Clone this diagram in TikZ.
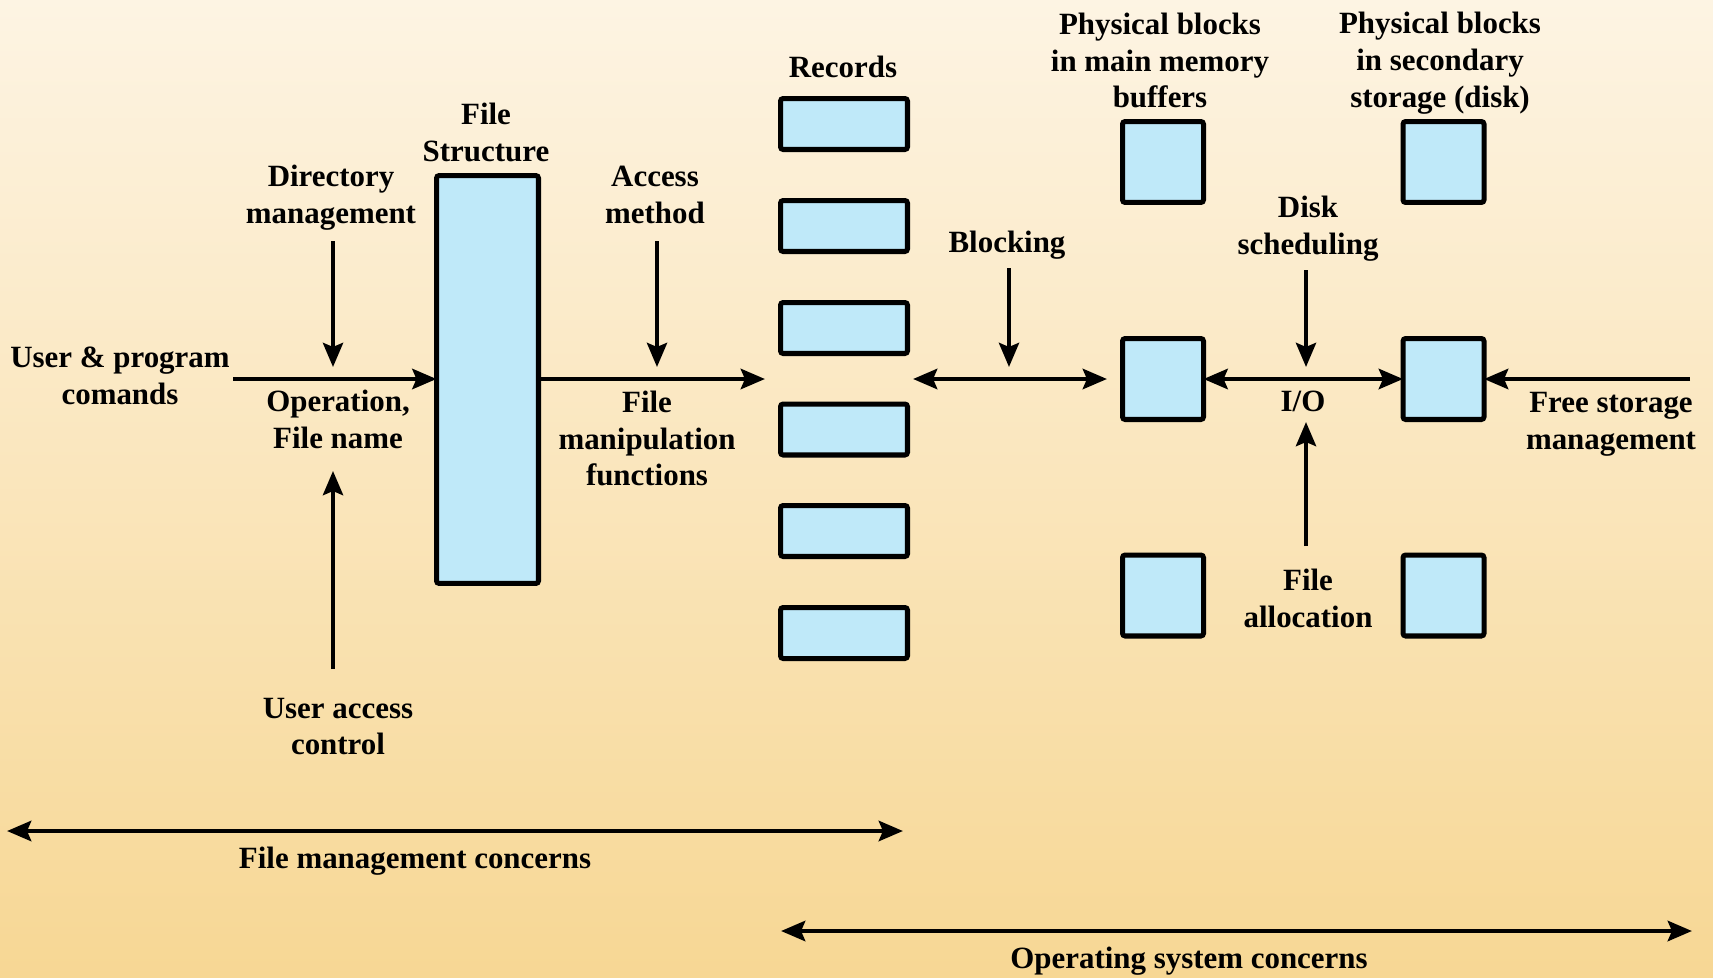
\documentclass[tikz,border=0pt]{standalone}
\usepackage{fontspec}
\setmainfont{Liberation Serif}
\usetikzlibrary{arrows.meta}
\definecolor{bgtop}{RGB}{253,244,227}
\definecolor{bgbot}{RGB}{247,215,148}
\definecolor{boxblue}{RGB}{191,233,249}
\begin{document}
\begin{tikzpicture}[x=0.02cm,y=-0.02cm,
  font=\bfseries\fontsize{17.6}{21}\selectfont,
  >={Stealth[length=13.7pt,width=11.4pt,inset=2.3pt]},
  lbl/.style={align=center,inner sep=0pt},
  blk/.style={draw,line width=2.85pt,fill=boxblue,rounded corners=1.5pt,inner sep=0pt,outer sep=0pt},
  tall/.style={blk,minimum width=2.04cm,minimum height=8.16cm},
  rec/.style={blk,minimum width=2.54cm,minimum height=1.02cm},
  sq/.style={blk,minimum width=1.62cm,minimum height=1.62cm},
  arr/.style={line width=2.8pt,->},
  varr/.style={line width=2.4pt,->},
  darr/.style={line width=2.8pt,<->}]

% background
\shade[top color=bgtop,bottom color=bgbot] (0,0) rectangle (1713,977);
\useasboundingbox (0,0) rectangle (1713,977);

% file structure
\node[tall] (fs) at (487.5,379.5) {};
\node[lbl] (fslbl) at (486,132.5) {File\\Structure};

% records
\foreach \i/\y in {1/124,2/226,3/328,4/429.5,5/531,6/633}
  \node[rec] (r\i) at (844,\y) {};
\node[lbl] (reclbl) at (843,67) {Records};

% blocks in main memory buffers and on disk
\node[sq] (mtop) at (1163,162) {};
\node[sq] (mmid) at (1163,379) {};
\node[sq] (mbot) at (1163,595.5) {};
\node[sq] (dtop) at (1443.5,162) {};
\node[sq] (dmid) at (1443.5,379) {};
\node[sq] (dbot) at (1443.5,595.5) {};

% labels
\node[lbl] (cmd) at (120,375.5) {User \& program\\comands};
\node[lbl] (dir) at (331,198) {Directory\\management};
\node[lbl] (op) at (338,419.5) {Operation,\\File name};
\node[lbl] (uac) at (338,726.5) {User access\\control};
\node[lbl] (acc) at (655,194.5) {Access\\method};
\node[lbl] (fmf) at (647,438.5) {File\\manipulation\\functions};
\node[lbl] (blk) at (1007,245) {Blocking};
\node[lbl] (pmm) at (1160,60.5) {Physical blocks\\in main memory\\buffers};
\node[lbl] (pss) at (1440,63.5) {Physical blocks\\in secondary\\storage (disk)};
\node[lbl] (dsk) at (1308,229) {Disk\\scheduling};
\node[lbl] (io) at (1303,401) {I/O};
\node[lbl] (fal) at (1308,598.5) {File\\allocation};
\node[lbl] (fsm) at (1611,424) {Free storage\\management};
\node[lbl] (fmc) at (415,861) {File management concerns};
\node[lbl] (osc) at (1189,961) {Operating system concerns};

% connector end points
\coordinate (cmdin) at (233,379);
\coordinate (dirtop) at (333,241);
\coordinate (dirtip) at (333,367);
\coordinate (uacbot) at (333,669);
\coordinate (uactip) at (333,471);
\coordinate (fmfout) at (765,379);
\coordinate (acctop) at (657,241);
\coordinate (acctip) at (657,367);
\coordinate (blkl) at (913,379);
\coordinate (blkr) at (1107,379);
\coordinate (blktop) at (1009,268);
\coordinate (blktip) at (1009,367);
\coordinate (dsktop) at (1306,270);
\coordinate (dsktip) at (1306,367);
\coordinate (faltop) at (1306,546);
\coordinate (faltip) at (1306,422);
\coordinate (fsmin) at (1690,379);
\coordinate (fmcl) at (7,831);
\coordinate (fmcr) at (903,831);
\coordinate (oscl) at (781,931);
\coordinate (oscr) at (1692,931);

% connectors
\draw[arr] (cmdin) -- (cmdin -| fs.west);
\draw[varr] (dirtop) -- (dirtip);
\draw[varr] (uacbot) -- (uactip);
\draw[arr] (fmfout -| fs.east) -- (fmfout);
\draw[varr] (acctop) -- (acctip);
\draw[darr] (blkl) -- (blkr);
\draw[varr] (blktop) -- (blktip);
\draw[darr] (mmid.east) -- (dmid.west);
\draw[varr] (dsktop) -- (dsktip);
\draw[varr] (faltop) -- (faltip);
\draw[arr] (fsmin) -- (dmid.east);
\draw[darr] (fmcl) -- (fmcr);
\draw[darr] (oscl) -- (oscr);
\end{tikzpicture}
\end{document}
